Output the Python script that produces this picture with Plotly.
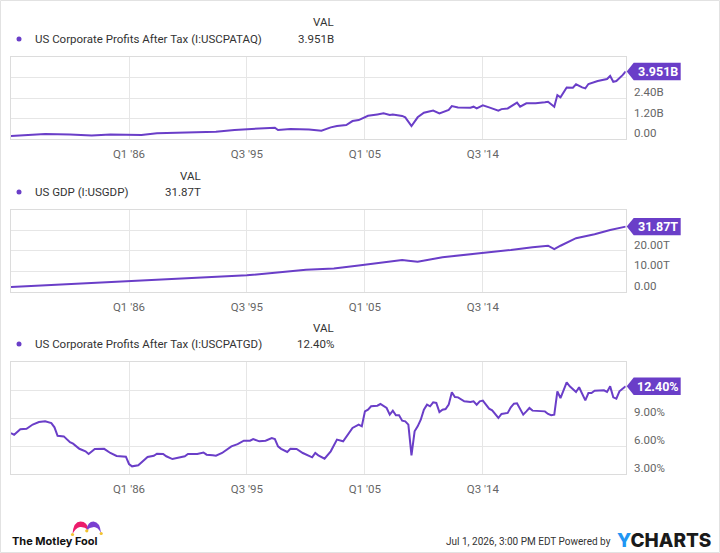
import plotly.graph_objects as go

W, H = 720, 553

# ---------------- data ----------------
profit_dates = ["1976-07", "1979-04", "1981-04", "1983-01", "1984-07", "1986-01", "1987-01",
                "1988-04", "1990-04", "1993-01", "1994-07", "1995-07", "1997-01", "1997-10",
                "1998-01", "1999-01", "2000-07", "2001-07", "2002-04", "2002-10", "2003-07",
                "2004-01", "2004-07", "2005-01", "2005-04", "2006-01", "2006-07", "2007-01",
                "2007-04", "2008-01", "2008-04", "2008-10", "2009-01", "2009-04", "2009-10",
                "2010-04", "2010-07", "2011-01", "2011-04", "2011-10", "2012-01", "2012-07",
                "2013-07", "2013-10", "2014-01", "2014-07", "2015-01", "2015-10", "2016-01",
                "2016-07", "2017-04", "2017-07", "2018-01", "2018-10", "2019-07", "2019-10",
                "2020-04", "2020-07", "2020-10", "2021-04", "2021-10", "2022-01", "2022-07",
                "2022-10", "2023-01", "2023-10", "2024-07", "2024-10", "2025-01", "2025-04",
                "2025-10", "2026-01"]
profit_vals = [0.17, 0.29, 0.27, 0.21, 0.27, 0.23, 0.23,
               0.33, 0.37, 0.43, 0.53, 0.58, 0.62, 0.66,
               0.53, 0.58, 0.55, 0.49, 0.68, 0.76, 0.82,
               1.05, 1.11, 1.27, 1.36, 1.44, 1.50, 1.40,
               1.44, 1.35, 1.27, 0.76, 1.01, 1.27, 1.54,
               1.60, 1.66, 1.50, 1.56, 1.70, 1.93, 1.85,
               1.83, 1.89, 1.79, 1.97, 1.85, 1.66, 1.75,
               1.79, 2.13, 1.89, 2.09, 2.09, 2.15, 2.18,
               1.89, 2.57, 2.44, 3.02, 3.00, 3.20, 3.02,
               2.96, 3.22, 3.39, 3.51, 3.69, 3.35, 3.39,
               3.74, 3.951]

gdp_dates = ["1976-07", "1981-01", "1986-01", "1991-01", "1995-07", "2000-04", "2002-07",
             "2004-07", "2006-04", "2008-01", "2008-07", "2009-04", "2011-04", "2014-07",
             "2016-10", "2018-07", "2019-10", "2020-04", "2020-10", "2022-01", "2023-07",
             "2024-10", "2026-01"]
gdp_vals = [2.3, 3.6, 5.0, 6.8, 8.0, 10.8, 11.4,
            12.8, 14.2, 15.5, 15.2, 14.7, 16.9, 18.8,
            20.4, 21.8, 22.5, 20.8, 22.5, 26.2, 28.1,
            30.2, 31.87]

ratio_dates = ["1976-07", "1976-10", "1977-04", "1977-10", "1978-04", "1978-10", "1979-04",
               "1979-10", "1980-01", "1980-04", "1980-10", "1981-01", "1981-04", "1981-07",
               "1982-01", "1982-07", "1982-10", "1983-04", "1984-01", "1984-07", "1985-01",
               "1985-10", "1986-01", "1986-04", "1986-10", "1987-04", "1987-07", "1988-01",
               "1988-04", "1988-10", "1989-01", "1989-07", "1990-01", "1990-07", "1990-10",
               "1991-07", "1992-01", "1992-04", "1992-10", "1993-01", "1993-07", "1994-01",
               "1994-04", "1994-10", "1995-04", "1995-10", "1996-01", "1996-07", "1997-01",
               "1997-07", "1997-10", "1998-01", "1998-04", "1998-10", "1999-01", "1999-07",
               "2000-01", "2000-10", "2001-01", "2001-04", "2001-10", "2002-04", "2002-10",
               "2003-04", "2003-07", "2004-01", "2004-07", "2004-10", "2005-01", "2005-04",
               "2005-07", "2006-01", "2006-04", "2006-10", "2007-01", "2007-04", "2007-07",
               "2007-10", "2008-01", "2008-04", "2008-07", "2008-10", "2009-01", "2009-04",
               "2009-07", "2009-10", "2010-01", "2010-04", "2010-07", "2010-10", "2011-01",
               "2011-04", "2011-07", "2011-10", "2012-01", "2012-04", "2012-07", "2013-01",
               "2013-07", "2013-10", "2014-01", "2014-04", "2014-07", "2015-01", "2015-04",
               "2015-10", "2016-01", "2016-07", "2016-10", "2017-01", "2017-04", "2017-10",
               "2018-01", "2018-04", "2018-07", "2019-01", "2019-07", "2019-10", "2020-01",
               "2020-04", "2020-07", "2020-10", "2021-04", "2021-07", "2022-01", "2022-04",
               "2022-10", "2023-01", "2023-04", "2023-07", "2024-04", "2024-07", "2024-10",
               "2025-01", "2025-04", "2025-07", "2026-01"]
ratio_vals = [7.39, 7.20, 7.80, 7.85, 8.30, 8.57, 8.64,
              8.46, 8.00, 7.10, 7.03, 6.65, 6.40, 6.25,
              5.70, 5.43, 5.14, 5.68, 5.70, 5.25, 4.93,
              4.86, 4.07, 3.82, 3.93, 4.53, 4.82, 4.96,
              5.18, 5.14, 4.90, 4.60, 4.71, 4.90, 5.14,
              5.14, 5.30, 5.07, 5.00, 4.96, 5.25, 5.70,
              5.96, 6.20, 6.57, 6.57, 6.75, 6.50, 6.57,
              6.86, 6.75, 5.96, 5.70, 5.36, 5.70, 5.68,
              5.25, 4.79, 5.25, 5.00, 4.64, 5.43, 6.68,
              6.50, 6.93, 7.93, 8.29, 8.11, 9.71, 9.89,
              10.25, 10.32, 10.50, 10.07, 9.36, 9.79, 9.29,
              9.29, 8.71, 8.64, 8.29, 5.00, 7.57, 8.11,
              8.82, 9.89, 10.43, 10.25, 10.68, 10.61, 9.64,
              9.89, 9.96, 10.43, 11.75, 11.25, 11.21, 10.79,
              10.71, 10.79, 10.43, 10.79, 10.86, 10.00, 9.82,
              9.00, 9.43, 9.54, 10.14, 10.54, 10.57, 9.36,
              9.71, 10.07, 9.79, 9.71, 9.71, 9.43, 9.29,
              9.36, 11.86, 11.14, 12.82, 12.39, 11.79, 12.29,
              10.89, 11.68, 11.68, 11.93, 11.96, 11.79, 12.39,
              11.21, 11.07, 11.86, 12.40]

series_names = ["US Corporate Profits After Tax (I:USCPATAQ)",
                "US GDP (I:USGDP)",
                "US Corporate Profits After Tax (I:USCPATGD)"]
value_labels = ["%.3fB" % profit_vals[-1], "%.2fT" % gdp_vals[-1], "%.2f%%" % ratio_vals[-1]]

x_tickvals = ["1986-01-01", "1995-07-01", "2005-01-01", "2014-07-01"]
x_ticktext = ["Q1 '86", "Q3 '95", "Q1 '05", "Q3 '14"]
x_range = ["1976-07-01", "2026-01-01"]

y_ranges = [[0, 4.8], [0, 40], [3, 15]]
y_tickvals = [[0, 1.2, 2.4, 3.6], [0, 10, 20, 30], [3, 6, 9, 12]]
y_ticktext = [["0.00", "1.20B", "2.40B", ""],
              ["0.00", "10.00T", "20.00T", ""],
              ["3.00%", "6.00%", "9.00%", ""]]

# ---------------- styling / layout ----------------
PURPLE = "#6a3ec8"
FONT = "Roboto"
GRID = "#e6e6e6"
FRAME = "#dcdcdc"

def px(x):
    return x / W

def py(y):
    return 1 - y / H

plot_left, plot_right = 11, 625.7
panels_px = [(57, 139), (210, 291.7), (362, 474)]      # top, bottom in pixels
legend_rows = [(22, 39, 336), (176, 192, 203), (328, 344, 336)]  # VAL y, row y, value right x

fig = go.Figure()
all_x = [[d + "-01" for d in profit_dates], [d + "-01" for d in gdp_dates],
         [d + "-01" for d in ratio_dates]]
all_y = [profit_vals, gdp_vals, ratio_vals]

layout = dict(
    width=W, height=H,
    margin=dict(l=0, r=0, t=0, b=0),
    paper_bgcolor="white", plot_bgcolor="white",
    showlegend=False,
    font=dict(family=FONT, color="#333333"),
    shapes=[], annotations=[],
)

for i in range(3):
    sfx = "" if i == 0 else str(i + 1)
    fig.add_trace(go.Scatter(x=all_x[i], y=all_y[i], mode="lines",
                             line=dict(color=PURPLE, width=2),
                             xaxis="x" + sfx, yaxis="y" + sfx, hoverinfo="skip"))
    top, bot = panels_px[i]
    layout["xaxis" + sfx] = dict(
        domain=[px(plot_left), px(plot_right)], anchor="y" + sfx,
        type="date", range=x_range,
        tickmode="array", tickvals=x_tickvals, ticktext=x_ticktext,
        showgrid=True, gridcolor=GRID, gridwidth=1,
        showline=True, linecolor=FRAME, linewidth=1, mirror=True,
        ticks="", ticklabelstandoff=4,
        tickfont=dict(family=FONT, size=11.5, color="#666666"),
        zeroline=False, fixedrange=True,
    )
    layout["yaxis" + sfx] = dict(
        domain=[py(bot), py(top)], anchor="x" + sfx, side="right",
        range=y_ranges[i],
        tickmode="array", tickvals=y_tickvals[i], ticktext=y_ticktext[i],
        showgrid=True, gridcolor=GRID, gridwidth=1,
        showline=True, linecolor=FRAME, linewidth=1, mirror=True,
        ticks="", ticklabelstandoff=5, ticklabelshift=-6,
        tickfont=dict(family=FONT, size=11.5, color="#666666"),
        zeroline=False, fixedrange=True,
    )

    # value badge at the end of the line
    yref = "y" + sfx
    layout["shapes"].append(dict(
        type="path", xref="paper", yref=yref,
        xsizemode="pixel", ysizemode="pixel",
        xanchor=px(plot_right), yanchor=all_y[i][-1],
        path="M1,0 L8,-8.7 L55,-8.7 L55,8.7 L8,8.7 Z",
        fillcolor=PURPLE, line=dict(width=0), layer="above",
    ))
    layout["annotations"].append(dict(
        xref="paper", yref=yref, x=px(plot_right + 32), y=all_y[i][-1],
        text="<b>%s</b>" % value_labels[i], showarrow=False,
        xanchor="center", yanchor="middle",
        font=dict(family=FONT, size=12.5, color="white"),
    ))

    # legend row
    val_y, row_y, val_x = legend_rows[i]
    layout["annotations"].append(dict(
        xref="paper", yref="paper", x=px(val_x), y=py(val_y), text="VAL",
        showarrow=False, xanchor="right", yanchor="middle",
        font=dict(family=FONT, size=11.5, color="#333333")))
    layout["annotations"].append(dict(
        xref="paper", yref="paper", x=px(val_x), y=py(row_y), text=value_labels[i],
        showarrow=False, xanchor="right", yanchor="middle",
        font=dict(family=FONT, size=11.5, color="#333333")))
    layout["annotations"].append(dict(
        xref="paper", yref="paper", x=px(33), y=py(row_y), text=series_names[i],
        showarrow=False, xanchor="left", yanchor="middle",
        font=dict(family=FONT, size=11.5, color="#333333")))
    layout["shapes"].append(dict(
        type="circle", xref="paper", yref="paper",
        x0=px(16.5), x1=px(21.5), y0=py(row_y + 2.5), y1=py(row_y - 2.5),
        fillcolor=PURPLE, line=dict(width=0)))

# outer frame
layout["shapes"].append(dict(type="rect", xref="paper", yref="paper",
                             x0=px(0.5), x1=px(719.5), y0=py(552.5), y1=py(0.5),
                             line=dict(color="#e2e2e2", width=1)))

# Motley Fool jester hat
def ppath(points_cmds):
    out = []
    for cmd, pts in points_cmds:
        coords = " ".join("%.5f,%.5f" % (px(x), py(y)) for x, y in pts)
        out.append(cmd + coords)
    return " ".join(out) + " Z"

pink = ppath([("M", [(72.5, 534)]), ("Q", [(73.5, 521.5), (80.5, 521.5)]),
              ("Q", [(87.5, 521.5), (88.5, 530)]), ("Q", [(84, 526.5), (80, 527)]),
              ("Q", [(75.5, 528), (72.5, 534)])])
purple = ppath([("M", [(86.5, 530)]), ("Q", [(87.5, 521.5), (93.5, 521.5)]),
                ("Q", [(100, 522), (101, 533)]), ("Q", [(98, 527), (94, 527)]),
                ("Q", [(89.5, 527.5), (86.5, 530)])])
layout["shapes"].append(dict(type="path", xref="paper", yref="paper", path=pink,
                             fillcolor="#ec1c6c", line=dict(width=0)))
layout["shapes"].append(dict(type="path", xref="paper", yref="paper", path=purple,
                             fillcolor="#7a3fd1", line=dict(width=0)))
for bx, by in [(72.5, 534.5), (86.8, 530.8), (101.2, 533.5)]:
    layout["shapes"].append(dict(type="circle", xref="paper", yref="paper",
                                 x0=px(bx - 1.6), x1=px(bx + 1.6),
                                 y0=py(by + 1.6), y1=py(by - 1.6),
                                 fillcolor="#f2c230", line=dict(width=0)))
layout["annotations"].append(dict(
    xref="paper", yref="paper", x=px(10), y=py(541), text="<b>The Motley Fool</b>",
    showarrow=False, xanchor="left", yanchor="middle",
    font=dict(family="Inter", size=11, color="#111111")))

# footer
layout["annotations"].append(dict(
    xref="paper", yref="paper", x=px(613), y=py(541),
    text="Jul 1, 2026, 3:00 PM EDT Powered by",
    showarrow=False, xanchor="right", yanchor="middle",
    font=dict(family=FONT, size=10, color="#333333")))
layout["annotations"].append(dict(
    xref="paper", yref="paper", x=px(713), y=py(540),
    text="<span style='color:#2196f3'>Y</span>CHARTS",
    showarrow=False, xanchor="right", yanchor="middle",
    font=dict(family="Inter", size=19, weight=800, color="#1a1a1a")))

fig.update_layout(**layout)
fig.write_html("out.html")
